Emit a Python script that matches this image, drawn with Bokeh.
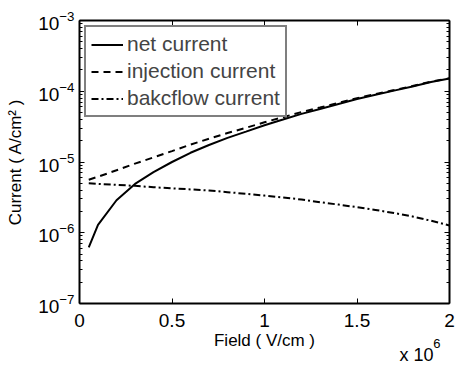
from bokeh.plotting import figure
from bokeh.models import (Range1d, LinearAxis, LogAxis, FixedTicker, Legend, LegendItem)
from bokeh.embed import file_html
from bokeh.resources import INLINE

# ---- data ----
field = [0.05e6, 0.1e6, 0.2e6, 0.3e6, 0.4e6, 0.5e6, 0.6e6, 0.7e6, 0.8e6, 0.9e6, 1.0e6,
         1.1e6, 1.2e6, 1.3e6, 1.4e6, 1.5e6, 1.6e6, 1.7e6, 1.8e6, 1.9e6, 2.0e6]
net_current = [6.2e-7, 1.29e-6, 2.88e-6, 4.9e-6, 7.2e-6, 1.0e-5, 1.35e-5, 1.74e-5, 2.19e-5,
               2.69e-5, 3.31e-5, 3.98e-5, 4.79e-5, 5.62e-5, 6.61e-5, 7.76e-5, 8.91e-5,
               1.02e-4, 1.17e-4, 1.35e-4, 1.51e-4]
injection_current = [5.62e-6, 6.19e-6, 7.63e-6, 9.5e-6, 1.16e-5, 1.425e-5, 1.76e-5, 2.135e-5,
                     2.565e-5, 3.045e-5, 3.645e-5, 4.295e-5, 5.085e-5, 5.89e-5, 6.86e-5,
                     7.99e-5, 9.12e-5, 1.039e-4, 1.187e-4, 1.365e-4, 1.523e-4]
backflow_current = [5.0e-6, 4.9e-6, 4.75e-6, 4.6e-6, 4.4e-6, 4.25e-6, 4.1e-6, 3.95e-6, 3.75e-6,
                    3.55e-6, 3.35e-6, 3.15e-6, 2.95e-6, 2.7e-6, 2.5e-6, 2.3e-6, 2.1e-6, 1.9e-6,
                    1.7e-6, 1.48e-6, 1.27e-6]

x_ticks = [0, 0.5e6, 1.0e6, 1.5e6, 2.0e6]
x_tick_labels = ["0", "0.5", "1", "1.5", "2"]
y_ticks = [1e-7, 1e-6, 1e-5, 1e-4, 1e-3]
series_names = ["net current", "injection current", "bakcflow current"]
mult_base_text = "x 10"
mult_exp_text = "6"

FONT = "Liberation Sans"

p = figure(width=455, height=367, y_axis_type="log",
           x_range=Range1d(0, 2e6), y_range=Range1d(1e-7, 1e-3),
           output_backend="svg", toolbar_location=None,
           min_border_left=79, min_border_right=6, min_border_top=20, min_border_bottom=63,
           background_fill_color="white", border_fill_color="white")
p.grid.visible = False
p.outline_line_color = None

y_minor = [m * t for t in y_ticks[:-1] for m in range(2, 10)]

def style_axis(ax):
    ax.axis_line_color = "black"
    ax.axis_line_width = 2
    ax.major_tick_line_color = "black"
    ax.major_tick_line_width = 1
    ax.major_tick_in = 5
    ax.major_tick_out = 0
    ax.minor_tick_in = 3
    ax.minor_tick_out = 0
    ax.minor_tick_line_color = "black"
    ax.major_label_text_font = FONT
    ax.major_label_text_font_size = "19px"
    ax.major_label_text_color = "black"
    ax.axis_label_text_font = FONT
    ax.axis_label_text_font_style = "normal"
    ax.axis_label_text_font_size = "17px"
    ax.axis_label_text_color = "black"

def label_only_axis(pos, text, size, standoff):
    ax = LinearAxis(ticker=FixedTicker(ticks=[pos], minor_ticks=[]),
                    major_label_overrides={pos: text})
    ax.axis_line_color = None
    ax.major_tick_line_color = None
    ax.minor_tick_line_color = None
    ax.major_tick_in = 0
    ax.major_tick_out = 0
    ax.major_label_text_font = FONT
    ax.major_label_text_font_size = size
    ax.major_label_text_color = "black"
    ax.major_label_standoff = standoff
    return ax

# bottom x axis
xa = p.xaxis[0]
xa.ticker = FixedTicker(ticks=x_ticks, minor_ticks=[])
xa.major_label_overrides = {t: l for t, l in zip(x_ticks, x_tick_labels)}
style_axis(xa)
xa.axis_label = "Field ( V/cm )"
xa.major_label_standoff = 10
xa.axis_label_standoff = 1

# the "x 10^6" multiplier: exponent and base as label-only axes pulled up under the x axis
p.add_layout(label_only_axis(1.932e6, mult_exp_text, "13px", -14), "below")
p.add_layout(label_only_axis(1.822e6, mult_base_text, "18px", -8), "below")

# left y axis
ya = p.yaxis[0]
ya.ticker = FixedTicker(ticks=y_ticks, minor_ticks=y_minor)
style_axis(ya)
ya.axis_label = "Current ( A/cm² )"
ya.major_label_standoff = 5
ya.axis_label_standoff = 10

# top and right axes (ticks only, labels hidden)
top = LinearAxis(ticker=FixedTicker(ticks=x_ticks, minor_ticks=[]))
style_axis(top)
top.major_label_text_font_size = "1px"
top.major_label_text_alpha = 0
top.major_label_standoff = 0
p.add_layout(top, "above")
right = LogAxis(ticker=FixedTicker(ticks=y_ticks, minor_ticks=y_minor))
style_axis(right)
right.major_label_text_font_size = "1px"
right.major_label_text_alpha = 0
right.major_label_standoff = 0
p.add_layout(right, "right")

r1 = p.line(field, net_current, line_color="black", line_width=2)
r2 = p.line(field, injection_current, line_color="black", line_width=2, line_dash="7 5")
r3 = p.line(field, backflow_current, line_color="black", line_width=2, line_dash="7 3 2 3")

legend = Legend(items=[LegendItem(label=n, renderers=[r]) for n, r in zip(series_names, [r1, r2, r3])],
                location="top_left", margin=5, padding=5, spacing=3,
                glyph_width=32, glyph_height=21, label_height=21, label_standoff=4,
                label_text_font=FONT, label_text_font_size="21px",
                border_line_color="black", border_line_width=2,
                background_fill_color="white", background_fill_alpha=1)
p.add_layout(legend, "center")

open("out.html", "w").write(file_html(p, INLINE))
